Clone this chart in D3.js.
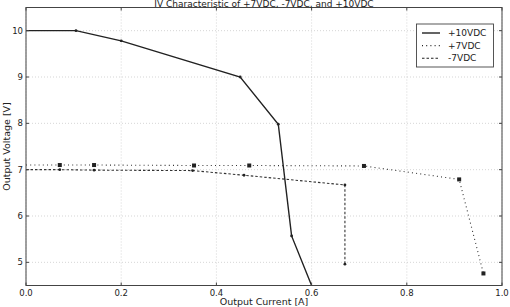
<!DOCTYPE html>
<html>
<head>
<meta charset="utf-8">
<script src="https://cdn.jsdelivr.net/npm/d3@7"></script>
<style>
  body { margin: 0; background: #fff; }
  svg { display: block; }
  text { font-family: "DejaVu Sans", sans-serif; fill: #222; }
</style>
</head>
<body>
<svg id="chart" width="510" height="307"></svg>
<script>
// ---- data ----
const xTicks = [0.0, 0.2, 0.4, 0.6, 0.8, 1.0];
const yTicks = [5, 6, 7, 8, 9, 10];
const seriesNames = ["+10VDC", "+7VDC", "-7VDC"];
const p10_current = [0.0, 0.105, 0.2, 0.45, 0.53, 0.558, 0.6];
const p10_voltage = [10.0, 10.0, 9.78, 9.0, 7.98, 5.57, 4.5];
const p7_current = [0.0, 0.071, 0.143, 0.353, 0.469, 0.71, 0.91, 0.961];
const p7_voltage = [7.1, 7.1, 7.1, 7.09, 7.09, 7.08, 6.79, 4.76];
const m7_current = [0.0, 0.071, 0.143, 0.35, 0.458, 0.67, 0.67];
const m7_voltage = [7.0, 7.0, 6.99, 6.98, 6.88, 6.67, 4.96];

const title = "IV Characteristic of +7VDC, -7VDC, and +10VDC";
const xLabel = "Output Current [A]";
const yLabel = "Output Voltage [V]";

// ---- layout ----
const svg = d3.select("#chart");
const L = 26, R = 502, T = 7.5, B = 285.5;
const x = d3.scaleLinear().domain([0, 1]).range([L, R]);
const y = d3.scaleLinear().domain([4.5, 10.5]).range([B, T]);

// grid
const grid = svg.append("g");
xTicks.forEach(t => {
  grid.append("line").attr("x1", x(t)).attr("x2", x(t)).attr("y1", T).attr("y2", B)
    .attr("stroke", "#bbb").attr("stroke-width", 0.6).attr("stroke-dasharray", "1,2");
});
yTicks.forEach(t => {
  grid.append("line").attr("x1", L).attr("x2", R).attr("y1", y(t)).attr("y2", y(t))
    .attr("stroke", "#bbb").attr("stroke-width", 0.6).attr("stroke-dasharray", "1,2");
});

// clip
svg.append("defs").append("clipPath").attr("id", "clip")
  .append("rect").attr("x", L).attr("y", T).attr("width", R - L).attr("height", B - T);

const plot = svg.append("g").attr("clip-path", "url(#clip)");
const line = d3.line().x(d => x(d[0])).y(d => y(d[1]));

function zip(a, b) { return a.map((v, i) => [v, b[i]]); }
const d10 = zip(p10_current, p10_voltage);
const d7 = zip(p7_current, p7_voltage);
const dm7 = zip(m7_current, m7_voltage);

// +7VDC dotted
plot.append("path").datum(d7).attr("d", line).attr("fill", "none")
  .attr("stroke", "#333").attr("stroke-width", 1.1).attr("stroke-dasharray", "1,3.2");
plot.selectAll(".m7").data(d7.slice(1)).enter().append("rect")
  .attr("x", d => x(d[0]) - 2).attr("y", d => y(d[1]) - 2).attr("width", 4).attr("height", 4)
  .attr("fill", "#222");

// -7VDC dashed
plot.append("path").datum(dm7).attr("d", line).attr("fill", "none")
  .attr("stroke", "#333").attr("stroke-width", 1.1).attr("stroke-dasharray", "2.5,2");
plot.selectAll(".mm7").data(dm7.slice(1)).enter().append("circle")
  .attr("cx", d => x(d[0])).attr("cy", d => y(d[1])).attr("r", 1.4).attr("fill", "#222");

// +10VDC solid
plot.append("path").datum(d10).attr("d", line).attr("fill", "none")
  .attr("stroke", "#222").attr("stroke-width", 1.4);
plot.selectAll(".m10").data(d10.slice(1, -1)).enter().append("circle")
  .attr("cx", d => x(d[0])).attr("cy", d => y(d[1])).attr("r", 1.4).attr("fill", "#222");

// frame
svg.append("rect").attr("x", L).attr("y", T).attr("width", R - L).attr("height", B - T)
  .attr("fill", "none").attr("stroke", "#444").attr("stroke-width", 1);

// ticks
xTicks.forEach(t => {
  svg.append("line").attr("x1", x(t)).attr("x2", x(t)).attr("y1", B).attr("y2", B - 3).attr("stroke", "#444");
  svg.append("line").attr("x1", x(t)).attr("x2", x(t)).attr("y1", T).attr("y2", T + 3).attr("stroke", "#444");
  svg.append("text").attr("x", x(t)).attr("y", B + 10.5).attr("text-anchor", "middle")
    .attr("font-size", 8.5).text(d3.format(".1f")(t));
});
yTicks.forEach(t => {
  svg.append("line").attr("x1", L).attr("x2", L + 3).attr("y1", y(t)).attr("y2", y(t)).attr("stroke", "#444");
  svg.append("line").attr("x1", R).attr("x2", R - 3).attr("y1", y(t)).attr("y2", y(t)).attr("stroke", "#444");
  svg.append("text").attr("x", L - 3).attr("y", y(t) + 3).attr("text-anchor", "end")
    .attr("font-size", 8.5).text(t);
});

// labels
svg.append("text").attr("x", (L + R) / 2).attr("y", 7).attr("text-anchor", "middle")
  .attr("font-size", 9).text(title);
svg.append("text").attr("x", (L + R) / 2).attr("y", 305).attr("text-anchor", "middle")
  .attr("font-size", 9.5).text(xLabel);
svg.append("text").attr("transform", `translate(10,${(T + B) / 2}) rotate(-90)`)
  .attr("text-anchor", "middle").attr("font-size", 9.5).text(yLabel);

// legend
const lg = svg.append("g");
lg.append("rect").attr("x", 416.5).attr("y", 24).attr("width", 77).attr("height", 43)
  .attr("fill", "#fff").attr("stroke", "#444").attr("stroke-width", 0.9);
const styles = [
  { dash: null, w: 1.4 },
  { dash: "1,3.2", w: 1.1 },
  { dash: "2.5,2", w: 1.1 }
];
seriesNames.forEach((n, i) => {
  const yy = 33 + i * 12.6;
  const l = lg.append("line").attr("x1", 422).attr("x2", 440).attr("y1", yy).attr("y2", yy)
    .attr("stroke", "#222").attr("stroke-width", styles[i].w);
  if (styles[i].dash) l.attr("stroke-dasharray", styles[i].dash);
  lg.append("text").attr("x", 448).attr("y", yy + 3.2).attr("font-size", 9).text(n);
});
</script>
</body>
</html>
